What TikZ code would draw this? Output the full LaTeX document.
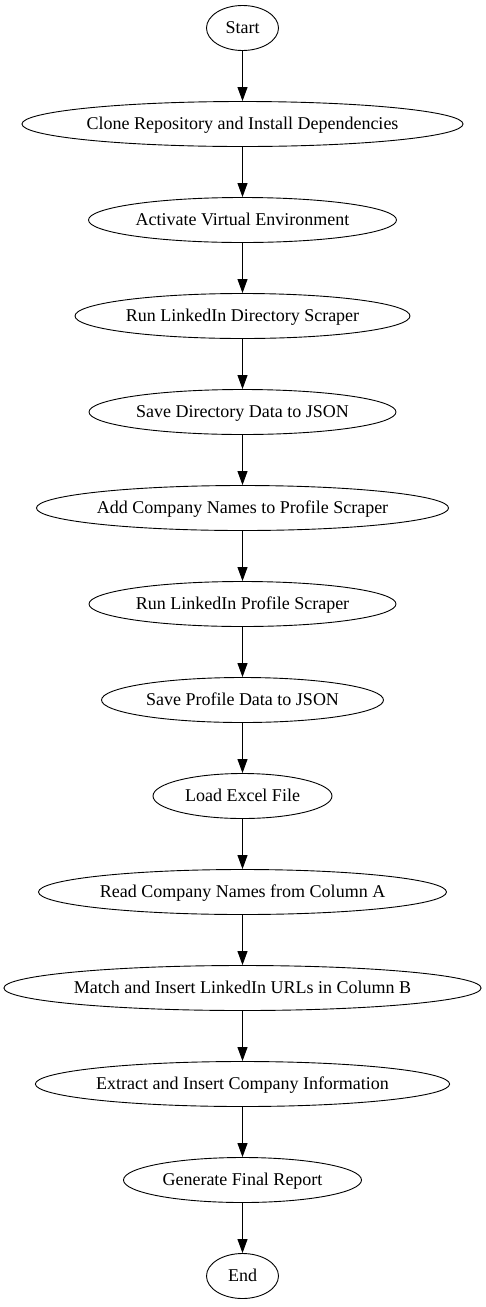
\documentclass[tikz,border=0pt]{standalone}
\usepackage{fontspec}
\setmainfont{Liberation Serif}
\usetikzlibrary{shapes.geometric,arrows.meta}
\begin{document}
\begin{tikzpicture}[x=1pt,y=-1pt,
  flownode/.style={ellipse,draw,line width=0.9pt,inner sep=0pt,minimum height=45pt,
    text height=13pt,text depth=2pt,
    font=\fontsize{18}{20}\selectfont},
  flowedge/.style={line width=0.9pt,-{Triangle[length=14pt,width=10pt]}}]
\useasboundingbox (0,0) rectangle (486,1307);
\node[flownode,minimum width=72pt]  (n0)  at (242.5,28)   {Start};
\node[flownode,minimum width=436pt] (n1)  at (242.5,124)  {Clone Repository and Install Dependencies};
\node[flownode,minimum width=308pt] (n2)  at (242.5,220)  {Activate Virtual Environment};
\node[flownode,minimum width=335pt] (n3)  at (242.5,316)  {Run LinkedIn Directory Scraper};
\node[flownode,minimum width=307pt] (n4)  at (242.5,412)  {Save Directory Data to JSON};
\node[flownode,minimum width=412pt] (n5)  at (242.5,508)  {Add Company Names to Profile Scraper};
\node[flownode,minimum width=307pt] (n6)  at (242.5,604)  {Run LinkedIn Profile Scraper};
\node[flownode,minimum width=282pt] (n7)  at (242.5,700)  {Save Profile Data to JSON};
\node[flownode,minimum width=179pt] (n8)  at (242.5,796)  {Load Excel File};
\node[flownode,minimum width=408pt] (n9)  at (242.5,892)  {Read Company Names from Column A};
\node[flownode,minimum width=476pt] (n10) at (242.5,988)  {Match and Insert LinkedIn URLs in Column B};
\node[flownode,minimum width=414pt] (n11) at (242.5,1084) {Extract and Insert Company Information};
\node[flownode,minimum width=238pt] (n12) at (242.5,1180) {Generate Final Report};
\node[flownode,minimum width=72pt]  (n13) at (242.5,1276) {End};
\foreach \a/\b in {n0/n1,n1/n2,n2/n3,n3/n4,n4/n5,n5/n6,n6/n7,n7/n8,n8/n9,n9/n10,n10/n11,n11/n12,n12/n13}
  \draw[flowedge] (\a) -- (\b);
\end{tikzpicture}
\end{document}
